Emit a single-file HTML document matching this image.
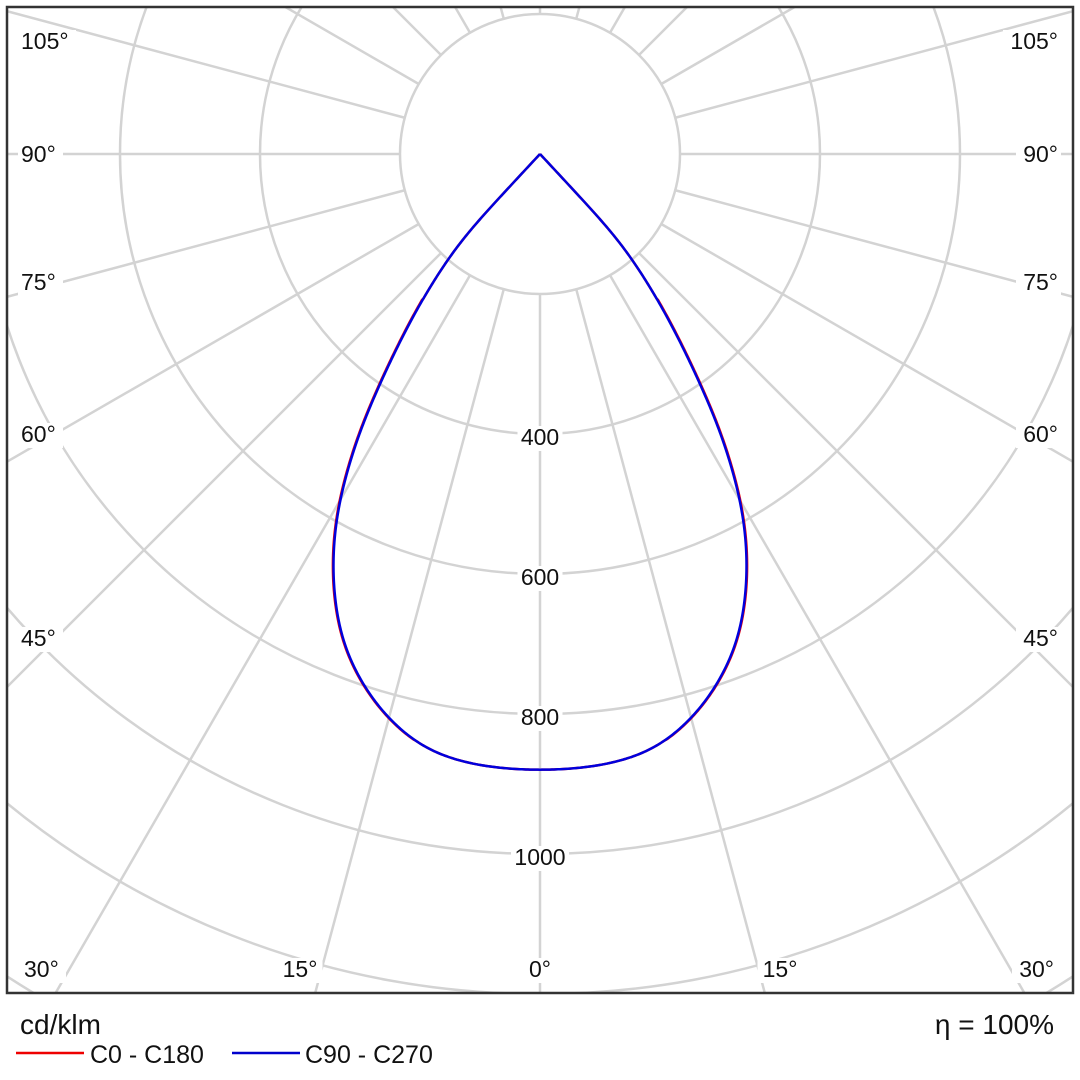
<!DOCTYPE html>
<html><head><meta charset="utf-8"><style>
html,body{margin:0;padding:0;background:#fff;width:1080px;height:1080px;overflow:hidden;}
svg{display:block;font-family:"Liberation Sans",sans-serif;}
</style></head><body>
<svg id="s" width="1080" height="1076" viewBox="0 0 1080 1076">
<defs><clipPath id="c"><rect x="7" y="7" width="1066" height="986"/></clipPath></defs>
<g clip-path="url(#c)" fill="none" stroke="#d3d3d3" stroke-width="2.5" id="grid"></g>
<g id="curves" fill="none" stroke-width="2.5" stroke-linejoin="round"></g>
<g id="labels" font-size="23" fill="#111"></g>
<rect x="7" y="7" width="1066" height="986" fill="none" stroke="#333" stroke-width="2.5"/>
<text x="20" y="1034" font-size="28" fill="#111">cd/klm</text>
<text x="1054" y="1034" font-size="28" fill="#111" text-anchor="end">η = 100%</text>
<line x1="16" y1="1053" x2="84" y2="1053" stroke="#e00" stroke-width="2.5"/>
<text x="90" y="1063" font-size="25" fill="#111">C0 - C180</text>
<line x1="232" y1="1053" x2="300" y2="1053" stroke="#00c" stroke-width="2.5"/>
<text x="305" y="1063" font-size="25" fill="#111">C90 - C270</text>
</svg>
<script>
var NS="http://www.w3.org/2000/svg",cx=540,cy=154;
function el(t,a,p){var e=document.createElementNS(NS,t);for(var k in a)e.setAttribute(k,a[k]);p.appendChild(e);return e;}
var g=document.getElementById('grid');
for(var r=140;r<=1400;r+=140)el('circle',{cx:cx,cy:cy,r:r},g);
for(var a=-180;a<180;a+=15){var t=a*Math.PI/180;var dx=Math.sin(t),dy=Math.cos(t);
el('line',{x1:cx+140*dx,y1:cy+140*dy,x2:cx+1600*dx,y2:cy+1600*dy},g);}
var L=document.getElementById('labels');
function lab(x,y,s,anc){var w=s.length*13+6;var x0=anc=='end'?x-w+3:(anc=='middle'?x-w/2:x-3);
el('rect',{x:x0,y:y-19,width:w,height:25,fill:'#fff'},L);var e=el('text',{x:x,y:y,'text-anchor':anc||'start'},L);e.textContent=s;}
lab(21,49,'105°');lab(21,162,'90°');lab(21,290,'75°');lab(21,442,'60°');lab(21,646,'45°');lab(24,977,'30°');
lab(1058,49,'105°','end');lab(1058,162,'90°','end');lab(1058,290,'75°','end');lab(1058,442,'60°','end');lab(1058,646,'45°','end');lab(1054,977,'30°','end');
lab(300,977,'15°','middle');lab(540,977,'0°','middle');lab(780,977,'15°','middle');
lab(540,445,'400','middle');lab(540,585,'600','middle');lab(540,725,'800','middle');lab(540,865,'1000','middle');
var P=[[540,154],[500,197],[467,233],[448,258],[420,303],[397,347],[377,390],[360,430],[345,477],[335,522],[332,570],[336,615],[345,652],[365,690],[389,721],[427,752],[480,767],[540,771]];
var D=[];
for(var i=0;i<P.length-1;i++){var a0=P[i],a1=P[i+1],n=Math.max(2,Math.round(Math.hypot(a1[0]-a0[0],a1[1]-a0[1])/2));
for(var k=0;k<n;k++){var f=k/n;D.push([a0[0]+(a1[0]-a0[0])*f,a0[1]+(a1[1]-a0[1])*f]);}}
D.push(P[P.length-1]);
var full=D.concat(D.slice(0,-1).reverse().map(function(p){return [1080-p[0],p[1]];}));
function smooth(arr,w,pass){for(var q=0;q<pass;q++){var o=arr.map(function(p){return p.slice();});
for(var i=1;i<arr.length-1;i++){var sx=0,sy=0,c=0;var ww=Math.min(w,i,arr.length-1-i);for(var j=-ww;j<=ww;j++){var k=i+j;sx+=arr[k][0];sy+=arr[k][1];c++;}
o[i]=[sx/c,sy/c];}
arr=o;}return arr;}
var S=smooth(full,10,4);
function poly(a){return 'M'+a.map(function(p){return p[0].toFixed(2)+','+p[1].toFixed(2);}).join(' L');}
var C=document.getElementById('curves');
var fr=S.map(function(p){return [p[0]+(p[0]<540?-0.6:0.6)*(p[1]>300&&p[1]<740?1:0),p[1]];});
el('path',{d:poly(fr),stroke:'#e00'},C);
el('path',{d:poly(S),stroke:'#00d'},C);
</script>
</body></html>
